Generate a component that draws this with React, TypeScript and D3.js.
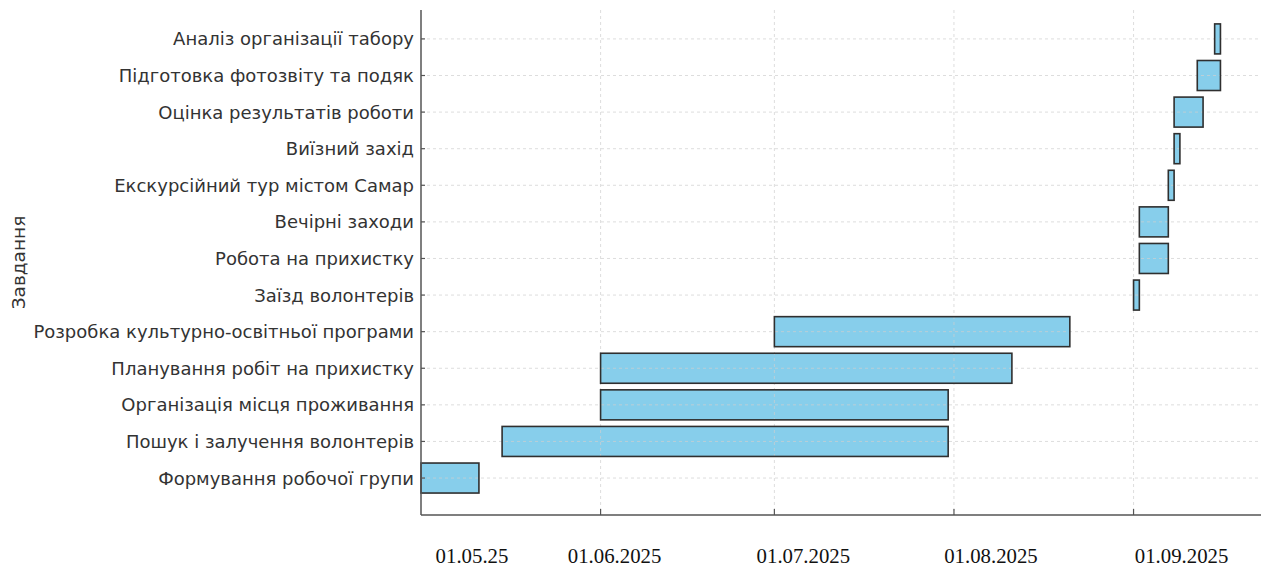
import React from "react";
import * as d3 from "d3";

const tasks = [
  "Формування робочої групи",
  "Пошук і залучення волонтерів",
  "Організація місця проживання",
  "Планування робіт на прихистку",
  "Розробка культурно-освітньої програми",
  "Заїзд волонтерів",
  "Робота на прихистку",
  "Вечірні заходи",
  "Екскурсійний тур містом Самар",
  "Виїзний захід",
  "Оцінка результатів роботи",
  "Підготовка фотозвіту та подяк",
  "Аналіз організації табору",
];
const starts = [
  "2025-05-01", "2025-05-15", "2025-06-01", "2025-06-01", "2025-07-01",
  "2025-09-01", "2025-09-02", "2025-09-02", "2025-09-07", "2025-09-08",
  "2025-09-08", "2025-09-12", "2025-09-15",
];
const ends = [
  "2025-05-11", "2025-07-31", "2025-07-31", "2025-08-11", "2025-08-21",
  "2025-09-02", "2025-09-07", "2025-09-07", "2025-09-08", "2025-09-09",
  "2025-09-13", "2025-09-16", "2025-09-16",
];
const tickDates = ["2025-06-01", "2025-07-01", "2025-08-01", "2025-09-01"];
const labelDates = ["2025-05-01", "2025-06-01", "2025-07-01", "2025-08-01", "2025-09-01"];
const labelTexts = ["01.05.25", "01.06.2025", "01.07.2025", "01.08.2025", "01.09.2025"];
const labelShift = [51, 14, 29, 37, 48];
const domainStart = "2025-05-01";
const domainEnd = "2025-09-23";
const yLabel = "Завдання";

const parse = d3.utcParse("%Y-%m-%d");

export default function App() {
  const W = 1266, H = 568;
  const left = 421, right = 1261, top = 10, bottom = 515;
  const x = d3.scaleUtc()
    .domain([parse(domainStart)!, parse(domainEnd)!])
    .range([left, right]);
  const y = d3.scaleLinear().domain([-1.01, 12.79]).range([bottom, top]);
  const bh = (y(0) - y(0.82));
  const grid = "#d0d0d0";
  const font = "'DejaVu Sans', sans-serif";
  const bars = tasks.map((t, i) => {
    const x0 = x(parse(starts[i])!);
    const x1 = x(parse(ends[i])!);
    return { t, x0, w: x1 - x0, y0: y(i) - bh / 2 };
  });
  return (
    <svg width={W} height={H} style={{ position: "absolute", left: 0, top: 0, background: "#fff" }}>
      {/* bar fills */}
      {bars.map((b) => (
        <rect key={"f" + b.t} x={b.x0} y={b.y0} width={b.w} height={bh} fill="#87CEEB" />
      ))}
      {/* grid */}
      {tasks.map((t, i) => (
        <line key={"g" + i} x1={left} x2={right} y1={y(i)} y2={y(i)}
          stroke={grid} strokeWidth={1} strokeDasharray="3,3" opacity={0.7} />
      ))}
      {tickDates.map((d) => (
        <line key={"v" + d} x1={x(parse(d)!)} x2={x(parse(d)!)} y1={top} y2={bottom}
          stroke={grid} strokeWidth={1} strokeDasharray="3,3" opacity={0.7} />
      ))}
      {/* bar outlines */}
      {bars.map((b) => (
        <rect key={"o" + b.t} x={b.x0} y={b.y0} width={b.w} height={bh}
          fill="none" stroke="#2f2f2f" strokeWidth={1.6} />
      ))}
      {/* ticks */}
      {tasks.map((t, i) => (
        <line key={"t" + i} x1={left} x2={left + 4} y1={y(i)} y2={y(i)} stroke="#555" strokeWidth={1.2} />
      ))}
      {tickDates.map((d) => (
        <line key={"xt" + d} x1={x(parse(d)!)} x2={x(parse(d)!)} y1={bottom} y2={bottom - 6}
          stroke="#555" strokeWidth={1.2} />
      ))}
      {/* spines */}
      <line x1={left} x2={left} y1={top} y2={bottom} stroke="#555" strokeWidth={1.5} />
      <line x1={left} x2={right} y1={bottom} y2={bottom} stroke="#555" strokeWidth={1.5} />
      {/* y labels */}
      {tasks.map((t, i) => (
        <text key={"l" + i} x={left - 7} y={y(i)} dy="0.36em" textAnchor="end"
          fontFamily={font} fontSize={18} fill="#333">{t}</text>
      ))}
      <text transform={`translate(25,${(top + bottom) / 2}) rotate(-90)`} textAnchor="middle"
        fontFamily={font} fontSize={18.5} fill="#333">{yLabel}</text>
      {/* x labels */}
      {labelDates.map((d, i) => (
        <text key={"xl" + i} x={x(parse(d)!) + labelShift[i]} y={563} textAnchor="middle"
          fontFamily="'Liberation Serif', 'Times New Roman', serif" fontSize={20.8} fill="#111">
          {labelTexts[i]}
        </text>
      ))}
    </svg>
  );
}
